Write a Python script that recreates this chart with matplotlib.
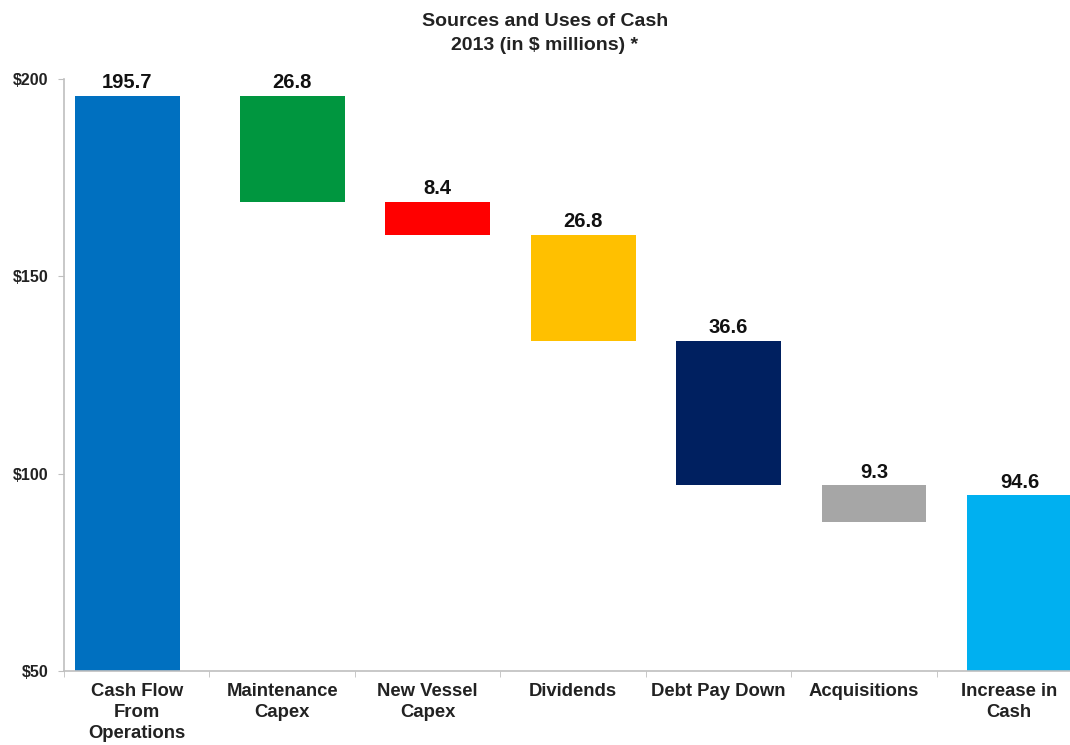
import numpy as np
import matplotlib as mpl
import matplotlib.pyplot as plt
from matplotlib.ticker import FixedLocator

mpl.rcParams['font.family'] = ['Liberation Sans', 'DejaVu Sans']
mpl.rcParams['font.weight'] = 'bold'

# data (in $ millions)
categories = ['Cash Flow\nFrom\nOperations', 'Maintenance\nCapex', 'New Vessel\nCapex',
              'Dividends', 'Debt Pay Down', 'Acquisitions', 'Increase in\nCash']
values = [195.7, 26.8, 8.4, 26.8, 36.6, 9.3, 94.6]
kinds = ['total', 'use', 'use', 'use', 'use', 'use', 'total']
colors = ['#0070C0', '#00963F', '#FF0000', '#FFC000', '#002060', '#A6A6A6', '#00B0F0']
y_ticks = [50, 100, 150, 200]

# waterfall bottoms / heights
bottoms, heights = [], []
running = 0.0
for v, k in zip(values, kinds):
    if k == 'total':
        bottoms.append(0.0)
        heights.append(v)
        running = v
    else:
        running -= v
        bottoms.append(running)
        heights.append(v)
bottoms = np.array(bottoms)
heights = np.array(heights)

x = np.arange(len(values), dtype=float)
bar_x = x + 0.07
bar_x[0] = x[0] - 0.065

fig = plt.figure(figsize=(10.70, 7.45), dpi=100)
ax = fig.add_axes((64 / 1070, 74 / 745, 1018 / 1070, 592 / 745))

ax.bar(bar_x, heights, bottom=bottoms, width=0.72, color=colors, zorder=2)

for xi, b, h, v in zip(bar_x, bottoms, heights, values):
    ax.annotate(f'{v:.1f}', xy=(xi, b + h), xytext=(0, 2.5), textcoords='offset points',
                ha='center', va='bottom', fontsize=14.5, fontweight='bold', color='#111111')

ax.set_xlim(-0.5, len(values) - 0.5)
ax.set_ylim(50, 200)

ax.set_yticks(y_ticks)
ax.set_yticklabels([f'${t}' for t in y_ticks], fontsize=11.5, fontweight='bold', color='#222222')
ax.set_xticks(x)
ax.set_xticklabels(categories, fontsize=13.3, fontweight='bold', linespacing=1.3, color='#222222')
ax.xaxis.set_minor_locator(FixedLocator(np.arange(-0.5, len(values), 1.0)))

ax.tick_params(axis='x', which='major', length=0, pad=9)
ax.tick_params(axis='x', which='minor', length=4, color='#BFBFBF', direction='out')
ax.tick_params(axis='y', length=4, color='#BFBFBF', pad=7)

for s in ['top', 'right']:
    ax.spines[s].set_visible(False)
for s in ['left', 'bottom']:
    ax.spines[s].set_color('#BFBFBF')
    ax.spines[s].set_linewidth(1.2)

fig.text(545 / 1070, 1 - 21 / 745, 'Sources and Uses of Cash', ha='center', va='center',
         fontsize=14, fontweight='bold', color='#222222')
fig.text(545 / 1070, 1 - 46 / 745, '2013 (in $ millions) *', ha='center', va='center',
         fontsize=14, fontweight='bold', color='#222222')

fig.savefig('out.png', dpi=100)
